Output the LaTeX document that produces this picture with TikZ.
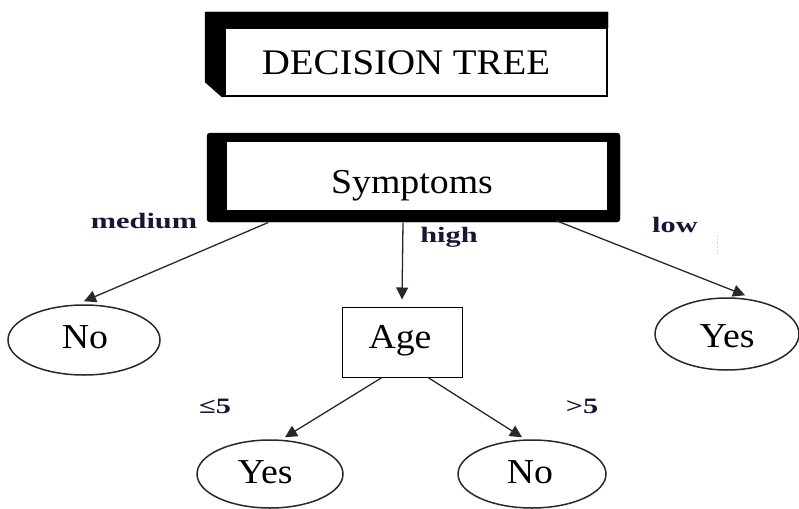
\documentclass[tikz,border=0pt]{standalone}
\usepackage{fontspec}
\usepackage{graphicx}
\setmainfont{Liberation Serif}
\usetikzlibrary{arrows.meta,shapes.geometric}
\definecolor{labcol}{RGB}{24,22,56}
\definecolor{linecol}{RGB}{40,40,40}
\definecolor{speck}{RGB}{225,205,120}
\newcommand{\wtxt}[1]{\scalebox{1.08}[1]{#1}}
\newcommand{\wlab}[1]{\scalebox{1.38}[1]{#1}}
\tikzset{
  box/.style={draw=black, line width=1.2pt, fill=white, inner sep=0pt},
  leaf/.style={ellipse, draw=linecol, line width=1.5pt, fill=white, inner sep=0pt},
  txt/.style={anchor=base, inner sep=0pt, font=\fontsize{35}{40}\selectfont},
  arr/.style={draw=linecol, line width=1.3pt, -{Triangle[length=12pt,width=12pt]}},
  lab/.style={anchor=base, text=labcol, font=\bfseries\fontsize{22}{24}\selectfont, inner sep=0pt},
  shade/.style={fill=black, draw=black}
}
\begin{document}
\begin{tikzpicture}[x=1pt,y=-1pt]
\useasboundingbox (0,0) rectangle (799,508);
% title frame
\path[shade] (205,12) -- (608,12) -- (608,28) -- (225,28) -- (225,97) -- (222,97) -- (205,82) -- cycle;
\node[box, minimum width=382pt, minimum height=68pt] (title) at (416,62) {};
\node[txt, font=\fontsize{36}{40}\selectfont] (titlet) at (406,75) {\wtxt{DECISION TREE}};
% symptoms frame
\path[shade, rounded corners=3pt] (207,133) rectangle (620,222);
\node[box, draw=none, minimum width=380pt, minimum height=68pt] (sym) at (417,176) {};
\node[txt] (symt) at (412,193) {\wtxt{Symptoms}};
% nodes
\node[leaf, minimum width=152pt, minimum height=70pt] (no1) at (84,340) {};
\node[txt] (no1t) at (85,348) {\wtxt{No}};
\node[leaf, minimum width=144pt, minimum height=72pt] (yes1) at (727,334) {};
\node[txt] (yes1t) at (727,347) {\wtxt{Yes}};
\node[box, line width=1pt, minimum width=120pt, minimum height=70pt] (age) at (402,342) {};
\node[txt] (aget) at (400,348) {\wtxt{Age}};
\node[leaf, minimum width=146pt, minimum height=68pt] (yes2) at (270,474) {};
\node[txt] (yes2t) at (265,483) {\wtxt{Yes}};
\node[leaf, minimum width=148pt, minimum height=68pt] (no2) at (532,474) {};
\node[txt] (no2t) at (530,483) {\wtxt{No}};
% connectors
\draw[arr] ([xshift=-149pt,yshift=-12pt]sym.south) -- ([yshift=3pt]no1.north);
\draw[arr] ([xshift=-14pt,yshift=-12pt]sym.south) -- ([yshift=7pt]age.north);
\draw[arr] ([xshift=139pt,yshift=-10pt]sym.south) -- ([xshift=18pt,yshift=2pt]yes1.north);
\draw[arr] ([xshift=-20pt]age.south) -- ([xshift=15pt,yshift=2pt]yes2.north);
\draw[arr] ([xshift=26pt]age.south) -- ([xshift=-10pt,yshift=2pt]no2.north);
% labels
\node[lab] (lmed) at (144,228) {\wlab{medium}};
\node[lab] (lhigh) at (449,242) {\wlab{high}};
\node[lab] (llow) at (675,232) {\wlab{low}};
\node[lab] (lle) at (215,413) {\wlab{≤5}};
\node[lab] (lgt) at (582,413) {\wlab{>5}};
\draw[speck, line width=0.8pt, dotted] (717,236) -- (717,253);
\end{tikzpicture}
\end{document}
